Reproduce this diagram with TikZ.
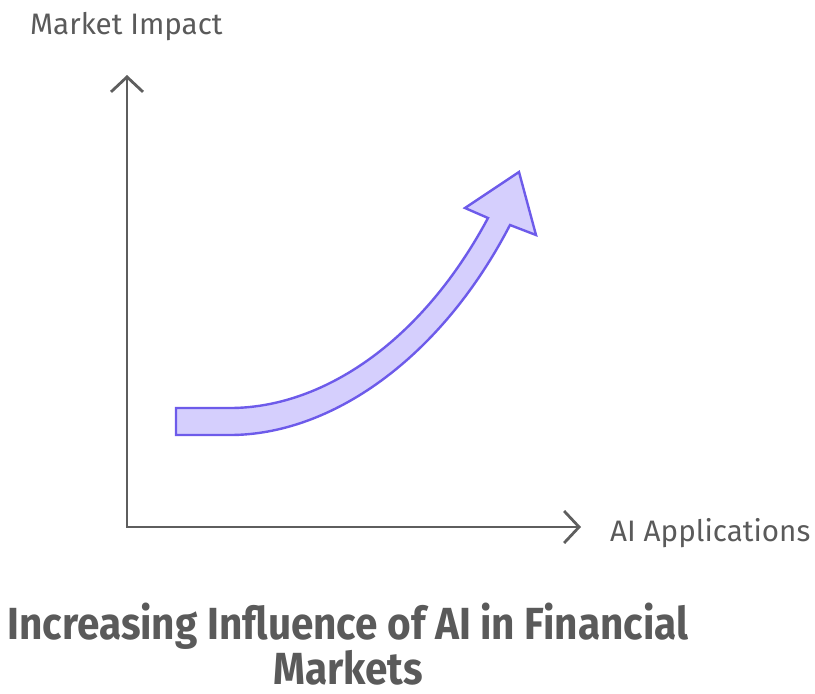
\documentclass[tikz,border=0pt]{standalone}
\usepackage{fontspec}
\setmainfont{Fira Sans}
\newfontfamily\titlefont[FakeStretch=0.9]{Fira Sans}
\usetikzlibrary{arrows.meta}

\definecolor{axisgray}{HTML}{5E5E5E}
\definecolor{textgray}{HTML}{5A5A5A}
\definecolor{growfill}{HTML}{D5CFFD}
\definecolor{growline}{HTML}{6D5BEA}

\begin{document}
\begin{tikzpicture}[x=1pt,y=-1pt,
    axis/.style={draw=axisgray,line width=2.8pt,line join=miter,
      {Straight Barb[length=15pt,width=32pt]}-{Straight Barb[length=15pt,width=32pt]}},
    lbl/.style={text=textgray,font=\fontsize{29.6}{34}\selectfont,inner sep=0pt,anchor=west}]

  \useasboundingbox (0,0) rectangle (815,694);

  \coordinate (ytip) at (127,75);
  \coordinate (o) at (127,527);
  \coordinate (xtip) at (581,527);

  \node[lbl] (ylabel) at (30,27) {Market Impact};
  \node[lbl] (xlabel) at (610,533) {AI Applications};

  \draw[axis] (ytip) -- (o) -- (xtip);

  % growth arrow
  \filldraw[fill=growfill,draw=growline,line width=2.4pt,line join=miter]
    (176,435) -- (230,435) .. controls (330,435) and (440,360) .. (510,225)
    -- (536,235) -- (519,172) -- (465,208) -- (488,218)
    .. controls (420,345) and (320,408) .. (230,408) -- (176,408) -- cycle;

  \node[text=textgray,font=\titlefont\bfseries\fontsize{45}{43}\selectfont,align=center,
        inner sep=0pt,text depth=0pt,anchor=south]
    (title) at (348,685) {Increasing Influence of AI in Financial\\Markets};

\end{tikzpicture}
\end{document}
